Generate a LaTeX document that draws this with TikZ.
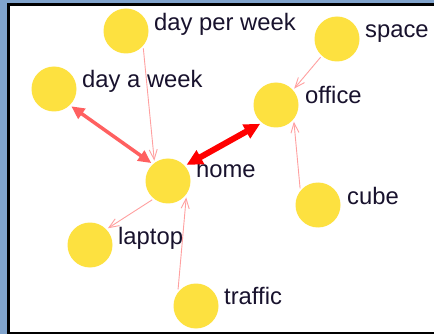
\documentclass[tikz,border=0pt]{standalone}
\usepackage{fontspec}
\setmainfont{Liberation Sans}
\usetikzlibrary{arrows.meta}
\definecolor{frameblue}{RGB}{128,163,204}
\definecolor{nodegold}{RGB}{253,225,64}
\definecolor{lightlink}{RGB}{255,160,160}
\definecolor{midlink}{RGB}{255,96,96}
\definecolor{labelink}{RGB}{24,18,45}
\begin{document}
\begin{tikzpicture}[x=1pt,y=-1pt,
  term/.style={circle,fill=nodegold,minimum size=45pt,inner sep=0pt,outer sep=2pt},
  termlabel/.style={anchor=base west,inner sep=0pt,text=labelink,font=\fontsize{23.8}{24}\selectfont},
  weak/.style={draw=lightlink,line width=0.9pt,-{Straight Barb[length=10pt,width=8pt]}},
  medium/.style={draw=midlink,line width=3.5pt,{Triangle[length=13pt,width=12pt]}-{Triangle[length=13pt,width=12pt]}},
  strong/.style={draw=red,line width=6pt,{Triangle[length=16pt,width=15pt]}-{Triangle[length=16pt,width=15pt]}},
]
\useasboundingbox (0,0) rectangle (434,334);
% window frame
\fill[frameblue] (0,0) rectangle (434,334);
\fill[black] (7,3) rectangle (434,334);
\fill[white] (10,6.5) rectangle (434,331.5);

% terms
\node[term] (dpw) at (126,31) {};
\node[term] (space) at (337,39) {};
\node[term] (daw) at (54,89) {};
\node[term] (office) at (276,105) {};
\node[term] (home) at (168,181) {};
\node[term] (cube) at (318,205) {};
\node[term] (laptop) at (90,245) {};
\node[term] (traffic) at (196,306) {};

% labels
\node[termlabel] (dpwL) at (154,30.5) {day per week};
\node[termlabel] (spaceL) at (365,38) {space};
\node[termlabel] (dawL) at (82,88) {day a week};
\node[termlabel] (officeL) at (305,104) {office};
\node[termlabel] (homeL) at (196,178) {home};
\node[termlabel] (cubeL) at (347,204.5) {cube};
\node[termlabel] (laptopL) at (118,244) {laptop};
\node[termlabel] (trafficL) at (224,304) {traffic};

% links
\draw[weak] (dpw.-45) -- (home.124);
\draw[weak] (space.228) -- (office.42);
\draw[weak] (cube.137) -- (office.-43);
\draw[weak] (home.230) -- (laptop.43);
\draw[weak] (traffic.137) -- (home.-42);
\draw[medium] (daw.-45) -- (home.133);
\draw[strong] (home.41) -- (office.230);
\end{tikzpicture}
\end{document}
